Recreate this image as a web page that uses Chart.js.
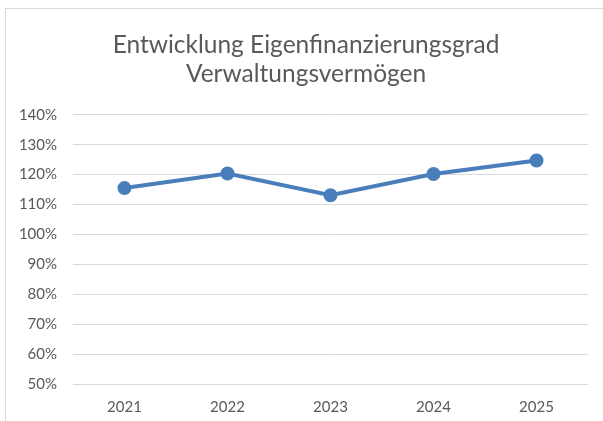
<!DOCTYPE html>
<html>
<head>
<meta charset="utf-8">
<script src="https://cdn.jsdelivr.net/npm/chart.js@4"></script>
<style>
    body { margin: 0; background: #fff; overflow: hidden; }
    #rahmen {
        position: absolute;
        left: 5px;
        top: 8px;
        width: 640px;
        height: 460px;
        border: 1px solid #d9d9d9;
    }
    #box { position: absolute; left: 0; top: 0; width: 597px; height: 412px; }
</style>
</head>
<body>
<div id="rahmen">
    <div id="box"><canvas id="grafico1"></canvas></div>
</div>
<script>
// Daten
const jahre = ['2021', '2022', '2023', '2024', '2025'];
const eigenfinanzierungsgrad = [115.5, 120.4, 113.1, 120.2, 124.7];
const titelZeilen = ['Entwicklung Eigenfinanzierungsgrad', 'Verwaltungsvermögen'];
const yMin = 50;
const yMax = 140;
const ySchritt = 10;

const grafico1 = document.getElementById('grafico1').getContext('2d');
const schrift = 'Lato, "Open Sans", sans-serif';

// titel etwas nach rechts schieben (wie im Excel-Diagramm)
const titelVerschieben = {
    id: 'titelVerschieben',
    afterLayout(chart) {
        if (chart.titleBlock) {
            chart.titleBlock.left += 9;
            chart.titleBlock.right += 9;
        }
    }
};

// GRÁFICA
window.graficaEigenfinanzierung = new Chart(grafico1, {
    type: 'line',
    data: {
        labels: jahre,
        datasets: [{
            label: 'Eigenfinanzierungsgrad',
            data: eigenfinanzierungsgrad,
            borderColor: '#4a7ebb',
            backgroundColor: '#4a7ebb',
            borderWidth: 4,
            pointRadius: 5,
            pointHoverRadius: 5,
            tension: 0,
            fill: false
        }]
    },
    options: {
        responsive: true,
        maintainAspectRatio: false,
        animation: false,
        layout: {
            padding: { left: 0, right: 15, top: 0, bottom: 0 }
        },
        plugins: {
            legend: { display: false },
            tooltip: { enabled: false },
            title: {
                display: true,
                text: titelZeilen,
                color: '#595959',
                font: { family: schrift, size: 24.5, weight: 'normal', lineHeight: 1.2 },
                padding: { top: 21, bottom: 26 }
            }
        },
        scales: {
            x: {
                offset: true,
                grid: { display: false, drawTicks: false },
                border: { display: false },
                ticks: {
                    color: '#595959',
                    font: { family: schrift, size: 15 },
                    padding: 14
                },
                afterFit: (scale) => { scale.height = 37; }
            },
            y: {
                min: yMin,
                max: yMax,
                grid: { color: '#d9d9d9', lineWidth: 1, drawTicks: false },
                border: { display: false },
                ticks: {
                    stepSize: ySchritt,
                    color: '#595959',
                    font: { family: schrift, size: 15 },
                    padding: 16,
                    callback: (v) => v + '%'
                },
                afterFit: (scale) => { scale.width = 67; }
            }
        }
    },
    plugins: [titelVerschieben]
});
</script>
</body>
</html>
